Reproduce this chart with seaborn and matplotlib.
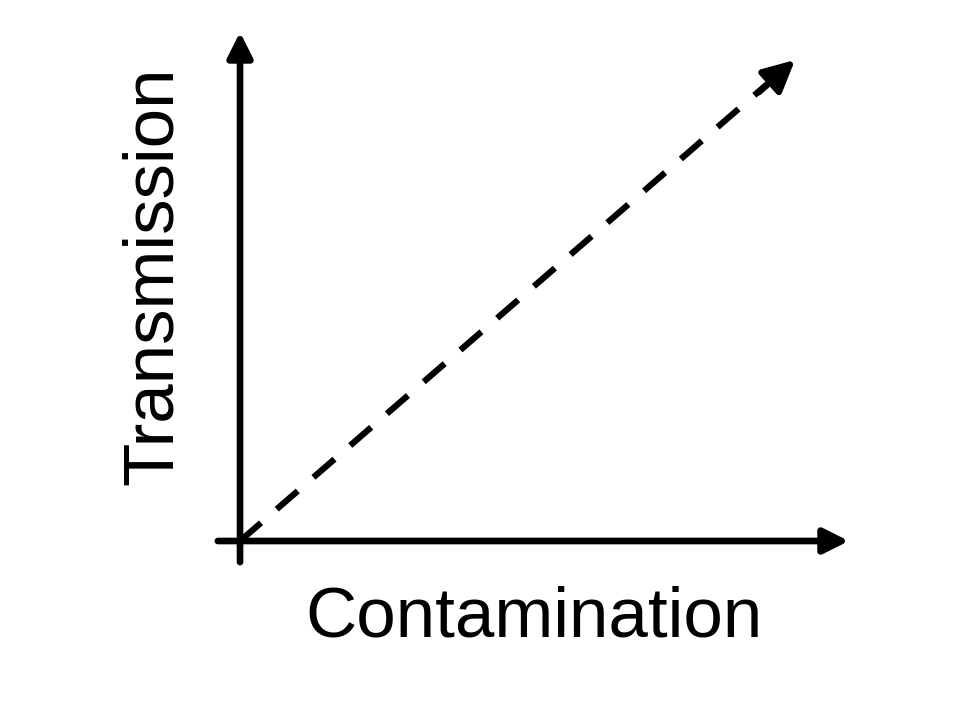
"""Schematic: transmission rises with contamination."""

import matplotlib.pyplot as plt
import seaborn as sns

# chart data (schematic, unit scale)
contamination = [0.0, 1.0]
transmission = [0.0, 1.0]
x_label = "Contamination"
y_label = "Transmission"

sns.set_theme(style="white")
plt.rcParams['font.family'] = ['Liberation Sans', 'DejaVu Sans']

fig = plt.figure(figsize=(9.6, 7.2), dpi=100)
# axes placed so that (0, 0) and (1, 1) land on the drawn origin and arrow tip
ax = fig.add_axes([0.1922, 0.1818, 0.7516, 0.8017])
ax.set_xlim(-0.1, 1.2)
ax.set_ylim(-0.1, 1.1)
ax.axis('off')

# dashed trend line
lw = 4.5
sns.lineplot(x=contamination[:1] + [0.95], y=transmission[:1] + [0.95],
             ax=ax, color='black', lw=lw,
             linestyle=(0, (20 / lw, 15 / lw)))

# solid tip of the trend arrow
ax.annotate('', xy=(contamination[1], transmission[1]),
            xytext=(0.935, 0.933),
            arrowprops=dict(arrowstyle='-|>,head_length=1.9,head_width=0.95',
                            color='black', lw=lw, shrinkA=0, shrinkB=0,
                            mutation_scale=10))

# axes drawn as arrows
axis_arrow = dict(arrowstyle='-|>,head_length=1.5,head_width=0.75',
                  color='black', lw=4.8, shrinkA=0, shrinkB=0,
                  mutation_scale=10)
ax.annotate('', xy=(1.097, 0), xytext=(-0.04, 0), arrowprops=axis_arrow)
ax.annotate('', xy=(0, 1.058), xytext=(0, -0.044), arrowprops=axis_arrow)

fig.text(0.556, 0.1153, x_label, ha='center', va='baseline', fontsize=51,
         color='black')
fig.text(0.179, 0.6167, y_label, ha='center', va='baseline', fontsize=51,
         color='black', rotation=90, rotation_mode='anchor')

fig.savefig('out.png', dpi=100, facecolor='white')
